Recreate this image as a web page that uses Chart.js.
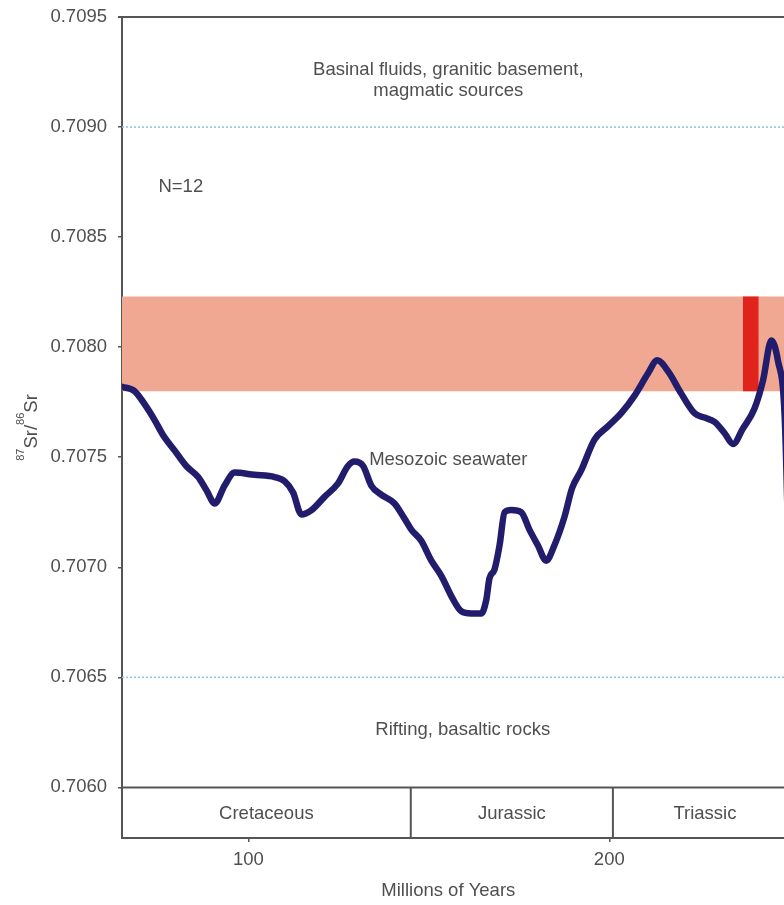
<!DOCTYPE html>
<html>
<head>
<meta charset="utf-8">
<title>87Sr/86Sr through the Mesozoic</title>
<script src="https://cdn.jsdelivr.net/npm/chart.js@4.4.1/dist/chart.umd.min.js"></script>
<style>
  html, body { margin: 0; padding: 0; background: #ffffff; overflow: hidden; }
  #wrap { width: 784px; height: 905px; overflow: hidden; position: relative; }
  canvas { display: block; }
</style>
</head>
<body>
<div id="wrap"><canvas id="chart" width="810" height="905"></canvas></div>
<script>
// Seawater 87Sr/86Sr curve (age in Ma, ratio)
const ages = [65.0, 68.5, 71.3, 74.0, 76.4, 79.6, 82.8, 86.1, 88.4, 90.7,
  93.4, 96.2, 101.7, 107.3, 110.1, 112.4, 114.7, 117.5, 121.1, 124.8,
  127.6, 129.4, 131.8, 134.1, 136.8, 140.5, 143.3, 145.2, 147.9, 150.7,
  153.5, 156.2, 159.0, 161.8, 164.5, 165.9, 166.8, 168.2, 169.6, 171.0,
  172.9, 175.6, 177.9, 180.2, 182.5, 184.8, 187.6, 189.7, 192.2, 195.9,
  199.6, 203.3, 207.0, 210.7, 213.3, 216.3, 219.9, 223.6, 226.4, 229.2,
  231.9, 234.3, 237.0, 240.2, 242.6, 244.9, 246.7, 248.6, 249.9];
const srRatio = [0.70782, 0.70780, 0.70774, 0.70767, 0.70760, 0.70753, 0.70746, 0.70741, 0.70735, 0.70729,
  0.70737, 0.70743, 0.70742, 0.70741, 0.70739, 0.70734, 0.70724, 0.70726, 0.70732, 0.70738,
  0.70746, 0.70748, 0.70746, 0.70737, 0.70733, 0.70729, 0.70722, 0.70717, 0.70712, 0.70703,
  0.70696, 0.70687, 0.70680, 0.70679, 0.70679, 0.70685, 0.70695, 0.70699, 0.70710, 0.70725,
  0.70726, 0.70725, 0.70717, 0.70710, 0.70703, 0.70710, 0.70723, 0.70736, 0.70744, 0.70758,
  0.70764, 0.70770, 0.70778, 0.70788, 0.70794, 0.70789, 0.70779, 0.70770, 0.70768, 0.70766,
  0.70761, 0.70756, 0.70763, 0.70772, 0.70785, 0.70803, 0.70794, 0.70768, 0.70690];

// Measured range of the samples (ratio band) and their age bracket
const sampleRatioRange = [0.70780, 0.70823];
const sampleAgeRange = [237.0, 241.4];

// Source-field limits (dotted lines)
const sourceLimits = [0.7090, 0.7065];

// Geological periods and boundaries (Ma)
const periodNames = ['Cretaceous', 'Jurassic', 'Triassic'];
const periodBounds = [65, 145, 201, 252];

// Axis ticks
const yTicks = [0.7060, 0.7065, 0.7070, 0.7075, 0.7080, 0.7085, 0.7090, 0.7095];
const xTicks = [100, 200];

// Text notes placed in data coordinates
const notes = [
  { text: 'Basinal fluids, granitic basement,', age: 155.4, ratio: 0.709259, align: 'center' },
  { text: 'magmatic sources', age: 155.4, ratio: 0.709164, align: 'center' },
  { text: 'N=12', age: 75.1, ratio: 0.708728, align: 'left' },
  { text: 'Mesozoic seawater', age: 155.4, ratio: 0.707489, align: 'center' },
  { text: 'Rifting, basaltic rocks', age: 159.4, ratio: 0.706259, align: 'center' }
];

const FONT = '"Liberation Sans", Arial, Helvetica, sans-serif';
const SIZE = 18.5;
const TEXT = '#4f4f4f';
const FRAME = '#555555';
const AGE_MIN = periodBounds[0];
const AGE_MAX = periodBounds[periodBounds.length - 1];

const flat = (v, a0, a1) => [{ x: a0, y: v }, { x: a1, y: v }];

const decor = {
  id: 'decor',
  afterDatasetsDraw(chart) {
    const { ctx, chartArea: a, scales: { x, y } } = chart;
    ctx.save();

    // frame: top edge and base of the ratio panel
    ctx.strokeStyle = FRAME;
    ctx.lineWidth = 2;
    ctx.beginPath();
    ctx.moveTo(a.left - 4, a.top);
    ctx.lineTo(a.right, a.top);
    const yBase = y.getPixelForValue(yTicks[0]);
    ctx.moveTo(a.left, yBase);
    ctx.lineTo(a.right, yBase);
    // period separators
    for (let i = 1; i < periodBounds.length - 1; i++) {
      const px = x.getPixelForValue(periodBounds[i]);
      ctx.moveTo(px, yBase);
      ctx.lineTo(px, a.bottom);
    }
    ctx.stroke();

    // period names
    ctx.fillStyle = TEXT;
    ctx.font = SIZE + 'px ' + FONT;
    ctx.textAlign = 'center';
    ctx.textBaseline = 'middle';
    const yMid = (yBase + a.bottom) / 2 + 1;
    periodNames.forEach((name, i) => {
      const cx = (x.getPixelForValue(periodBounds[i]) + x.getPixelForValue(periodBounds[i + 1])) / 2;
      ctx.fillText(name, cx, yMid);
    });

    // notes inside the plot
    notes.forEach(n => {
      ctx.textAlign = n.align;
      ctx.fillText(n.text, x.getPixelForValue(n.age), y.getPixelForValue(n.ratio));
    });

    // x-axis title
    ctx.textAlign = 'center';
    ctx.fillText('Millions of Years', x.getPixelForValue(155.4), 891);

    // y-axis title with isotope mass numbers as superscripts
    const parts = [['87', true], ['Sr/', false], ['86', true], ['Sr', false]];
    const big = SIZE + 'px ' + FONT, small = '11px ' + FONT;
    let total = 0;
    parts.forEach(p => { ctx.font = p[1] ? small : big; total += ctx.measureText(p[0]).width; });
    ctx.translate(37, (a.top + a.bottom) / 2);
    ctx.rotate(-Math.PI / 2);
    ctx.textAlign = 'left';
    ctx.textBaseline = 'alphabetic';
    let u = -total / 2;
    parts.forEach(p => {
      ctx.font = p[1] ? small : big;
      ctx.fillText(p[0], u, p[1] ? -13 : 0);
      u += ctx.measureText(p[0]).width;
    });
    ctx.restore();
  }
};

new Chart(document.getElementById('chart'), {
  type: 'line',
  data: {
    datasets: [
      { data: flat(sampleRatioRange[0], AGE_MIN, AGE_MAX), borderWidth: 0, pointRadius: 0, fill: false, order: 4 },
      { data: flat(sampleRatioRange[1], AGE_MIN, AGE_MAX), borderWidth: 0, pointRadius: 0,
        fill: '-1', backgroundColor: '#f0a892', order: 4 },
      { data: flat(sampleRatioRange[0], sampleAgeRange[0], sampleAgeRange[1]), borderWidth: 0, pointRadius: 0, fill: false, order: 3 },
      { data: flat(sampleRatioRange[1], sampleAgeRange[0], sampleAgeRange[1]), borderWidth: 0, pointRadius: 0,
        fill: '-1', backgroundColor: '#e0231b', order: 3 },
      ...sourceLimits.map(v => ({
        data: flat(v, AGE_MIN, AGE_MAX), borderColor: '#93c4e3', borderWidth: 1.6,
        borderDash: [2, 2], pointRadius: 0, fill: false, order: 2
      })),
      {
        label: 'Seawater',
        data: ages.map((a, i) => ({ x: a, y: srRatio[i] })),
        borderColor: '#211c6c', borderWidth: 6.5, pointRadius: 0,
        cubicInterpolationMode: 'monotone', borderCapStyle: 'round', borderJoinStyle: 'round',
        fill: false, order: 0
      }
    ]
  },
  options: {
    responsive: false,
    animation: false,
    devicePixelRatio: 1,
    layout: { padding: { top: 17, right: 13, left: 0, bottom: 0 } },
    plugins: { legend: { display: false }, tooltip: { enabled: false } },
    scales: {
      x: {
        type: 'linear', min: AGE_MIN, max: AGE_MAX,
        afterBuildTicks: s => { s.ticks = xTicks.map(v => ({ value: v })); },
        afterFit: s => { s.height = 67; },
        grid: { drawOnChartArea: false, drawTicks: true, tickLength: 4, color: FRAME, lineWidth: 1.5 },
        border: { display: true, color: FRAME, width: 2 },
        ticks: { color: TEXT, font: { family: FONT, size: SIZE }, padding: 7, maxRotation: 0, autoSkip: false }
      },
      y: {
        type: 'linear', min: 0.70577, max: 0.7095,
        afterBuildTicks: s => { s.ticks = yTicks.map(v => ({ value: v })); },
        afterFit: s => { s.width = 122; s.paddingTop = 0; s.paddingBottom = 0; },
        grid: { drawOnChartArea: false, drawTicks: true, tickLength: 4, color: FRAME, lineWidth: 1.5 },
        border: { display: true, color: FRAME, width: 2 },
        ticks: { color: TEXT, font: { family: FONT, size: SIZE }, padding: 11, autoSkip: false,
          callback: v => Number(v).toFixed(4) }
      }
    }
  },
  plugins: [decor]
});
</script>
</body>
</html>
